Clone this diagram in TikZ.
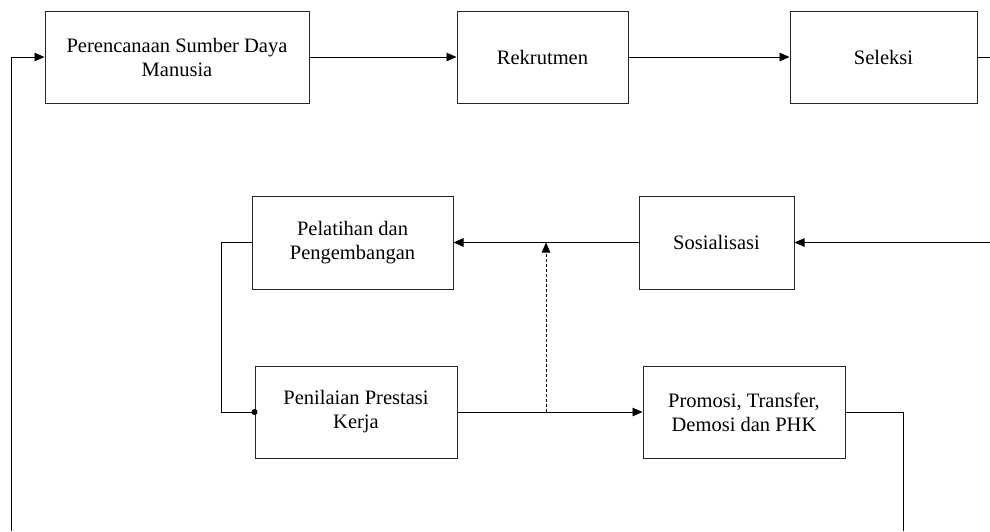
\documentclass[tikz,border=0pt]{standalone}
\usepackage{fontspec}
\setmainfont{Liberation Serif}
\usetikzlibrary{arrows.meta}
\begin{document}
\begin{tikzpicture}[x=1pt,y=-1pt,
  box/.style={draw=black!85, line width=1pt, inner sep=0pt, align=center,
    font=\fontsize{20.5}{24}\selectfont},
  conn/.style={line width=0.9pt},
  arr/.style={conn, -{Triangle[length=10pt,width=8.5pt]}},
  dsh/.style={line width=0.8pt, dash pattern=on 3pt off 2pt, -{Triangle[length=10pt,width=8.5pt]}}
]
\useasboundingbox (0,0) rectangle (990,531);
\fill[white] (0,0) rectangle (990,531);

\node[box, minimum width=264pt, minimum height=92pt] (pe) at (177,57) {Perencanaan Sumber Daya\\Manusia};
\node[box, minimum width=171pt, minimum height=92pt] (rk) at (542.5,57) {Rekrutmen};
\node[box, minimum width=187pt, minimum height=92pt] (se) at (883.5,57) {Seleksi};
\node[box, minimum width=155pt, minimum height=93pt] (so) at (716.5,242.5) {Sosialisasi};
\node[box, minimum width=201pt, minimum height=93pt] (pl) at (352.5,242.5) {Pelatihan dan\\Pengembangan};
\node[box, minimum width=202pt, minimum height=92pt] (pn) at (356,412) {Penilaian Prestasi\\Kerja};
\node[box, minimum width=202pt, minimum height=92pt] (pr) at (744,412) {Promosi, Transfer,\\Demosi dan PHK};

\coordinate (r1) at (990,57);
\coordinate (r2) at (990,242.5);
\coordinate (lk) at (221,242.5);
\coordinate (d1) at (546,412);
\coordinate (d2) at (546,242.5);
\coordinate (b1) at (903,412);
\coordinate (b2) at (903,531);
\coordinate (b3) at (11,531);
\coordinate (b4) at (11,57);

\draw[arr] (pe.east) -- (rk.west);
\draw[arr] (rk.east) -- (se.west);
\draw[conn] (se.east) -- (r1);
\draw[arr] (r2) -- (so.east);
\draw[arr] (so.west) -- (pl.east);
\draw[conn] (pl.west) -- (lk) |- (pn.west);
\fill (pn.west) circle (3pt);
\draw[arr] (pn.east) -- (pr.west);
\draw[dsh] (d1) -- (d2);
\draw[conn] (pr.east) -- (b1) -- (b2);
\draw[arr] (b3) -- (b4) -- (pe.west);
\end{tikzpicture}
\end{document}
